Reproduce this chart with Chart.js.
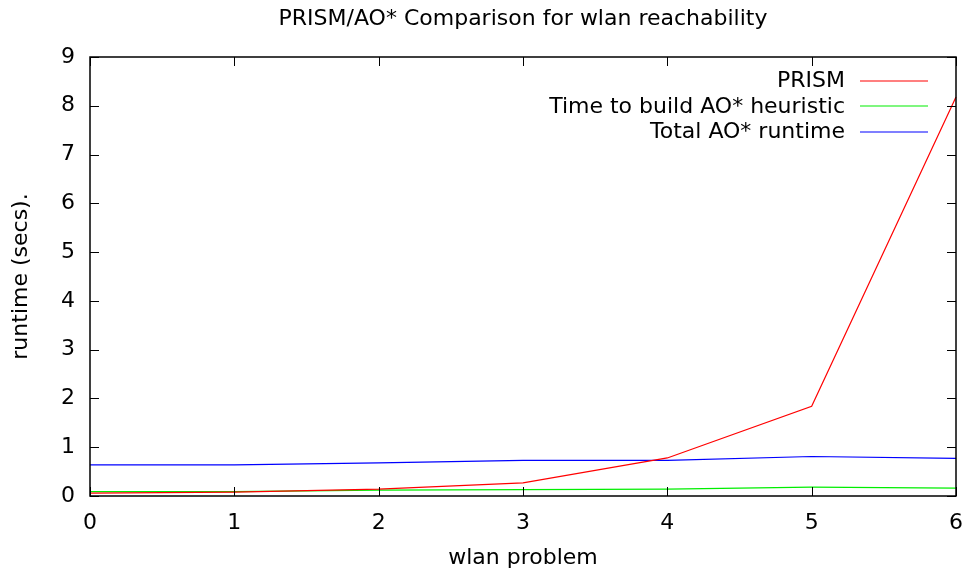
<!DOCTYPE html>
<html>
<head>
<meta charset="utf-8">
<script src="https://cdn.jsdelivr.net/npm/chart.js@4.4.0/dist/chart.umd.min.js"></script>
<style>
html,body{margin:0;padding:0;background:#fff;}
#wrap{width:966px;height:571px;position:relative;}
</style>
</head>
<body>
<div id="wrap"><canvas id="c" width="966" height="571"></canvas></div>
<script>
const problems = [0, 1, 2, 3, 4, 5, 6];
const prism = [0.06, 0.08, 0.14, 0.27, 0.78, 1.84, 8.18];
const heuristic = [0.09, 0.09, 0.12, 0.13, 0.14, 0.18, 0.16];
const totalAO = [0.64, 0.64, 0.68, 0.73, 0.73, 0.81, 0.77];
const yTicks = [0, 1, 2, 3, 4, 5, 6, 7, 8, 9];
const titleText = "PRISM/AO* Comparison for wlan reachability";
const xTitle = "wlan problem";
const yTitle = "runtime (secs).";
const seriesNames = ['PRISM', 'Time to build AO* heuristic', 'Total AO* runtime'];
const seriesColors = ['#ff0000', '#00ee00', '#0000ff'];

const FONT = "'DejaVu Sans', sans-serif";

const framePlugin = {
  id: 'frame',
  afterDatasetsDraw(chart) {
    const ctx = chart.ctx, a = chart.chartArea;
    const xs = chart.scales.x, ys = chart.scales.y;
    ctx.save();
    ctx.strokeStyle = '#000';
    ctx.lineWidth = 1;
    const tl = 9;
    ctx.beginPath();
    problems.forEach(v => {
      const px = Math.round(xs.getPixelForValue(v)) + 0.5;
      ctx.moveTo(px, a.bottom); ctx.lineTo(px, a.bottom - tl);
      ctx.moveTo(px, a.top); ctx.lineTo(px, a.top + tl);
    });
    yTicks.forEach(v => {
      const py = Math.round(ys.getPixelForValue(v)) + 0.5;
      ctx.moveTo(a.left, py); ctx.lineTo(a.left + tl, py);
      ctx.moveTo(a.right, py); ctx.lineTo(a.right - tl, py);
    });
    ctx.stroke();
    ctx.lineWidth = 1.5;
    ctx.strokeRect(a.left, a.top, a.right - a.left, a.bottom - a.top);
    ctx.fillStyle = '#000';
    ctx.font = "22px " + FONT;
    ctx.textAlign = 'center';
    ctx.textBaseline = 'middle';
    ctx.fillText(titleText, 523, 19);
    ctx.textAlign = 'right';
    seriesNames.forEach((name, i) => {
      const y = 80.5 + i * 25.5;
      ctx.fillStyle = '#000';
      ctx.fillText(name, 845, y + 1);
      ctx.beginPath();
      ctx.strokeStyle = seriesColors[i];
      ctx.lineWidth = 1.2;
      ctx.moveTo(860, Math.round(y));
      ctx.lineTo(928, Math.round(y));
      ctx.stroke();
    });
    ctx.restore();
  }
};

new Chart(document.getElementById('c'), {
  type: 'line',
  data: {
    labels: problems,
    datasets: seriesNames.map((n, i) => ({
      label: n,
      data: [prism, heuristic, totalAO][i],
      borderColor: seriesColors[i], borderWidth: 1.2, pointRadius: 0, tension: 0, fill: false
    }))
  },
  options: {
    responsive: false,
    animation: false,
    clip: false,
    layout: { padding: { top: 57, right: 10, left: 0, bottom: 0 } },
    plugins: { legend: { display: false }, title: { display: false }, tooltip: { enabled: false } },
    scales: {
      x: {
        type: 'linear', min: 0, max: 6,
        grid: { display: false, drawTicks: false },
        border: { display: false },
        ticks: { stepSize: 1, color: '#000', font: { family: FONT, size: 22 }, padding: 14, maxRotation: 0 },
        title: { display: true, text: xTitle, color: '#000', font: { family: FONT, size: 22 }, padding: { top: 6, bottom: 0 } },
        afterFit(s) { s.height = 75; s.paddingLeft = 0; s.paddingRight = 0; }
      },
      y: {
        min: 0, max: 9,
        grid: { display: false, drawTicks: false },
        border: { display: false },
        ticks: { stepSize: 1, color: '#000', font: { family: FONT, size: 22 }, padding: 15 },
        title: { display: true, text: yTitle, color: '#000', font: { family: FONT, size: 22 }, padding: { top: 8, bottom: 0 } },
        afterFit(s) { s.width = 90; s.paddingTop = 0; s.paddingBottom = 0; }
      }
    }
  },
  plugins: [framePlugin]
});
</script>
</body>
</html>
